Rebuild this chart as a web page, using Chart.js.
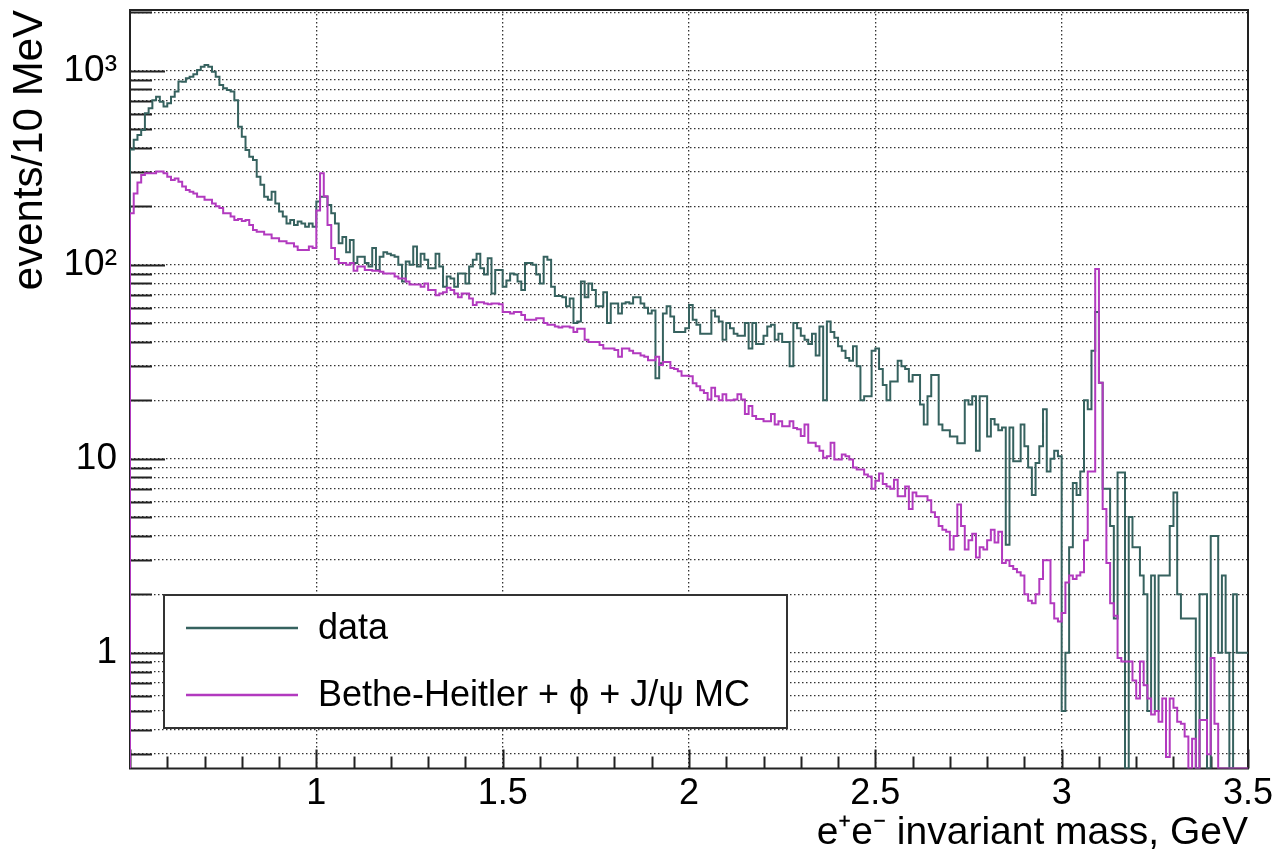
<!DOCTYPE html>
<html>
<head>
<meta charset="utf-8">
<title>e+e- invariant mass</title>
<script src="https://cdn.jsdelivr.net/npm/chart.js@4.4.0/dist/chart.umd.min.js"></script>
<style>
  html, body { margin: 0; padding: 0; background: #fff; }
  #wrap { width: 1280px; height: 859px; position: relative; }
</style>
</head>
<body>
<div id="wrap"><canvas id="massChart"></canvas></div>
<script>
// binning: 10 MeV bins from 0.5 to 3.5 GeV
const MASS_MIN = 0.5;
const MASS_MAX = 3.5;
const BIN_WIDTH = 0.01;

// events per bin (0 = empty bin)
const DATA_COUNTS = [
  393, 440, 466, 495, 603, 640, 705, 735, 692, 653,
  679, 735, 780, 880, 877, 914, 931, 958, 1008, 1049,
  1070, 1049, 988, 931, 845, 811, 795, 780, 705, 514,
  457, 390, 360, 346, 284, 258, 224, 216, 238, 207,
  188, 177, 163, 170, 160, 167, 163, 157, 163, 157,
  212, 224, 224, 203, 184, 163, 129, 139, 116, 134,
  102, 110, 110, 102, 98, 122, 94, 110, 116, 114,
  112, 110, 100, 82, 104, 100, 124, 98, 114, 106,
  96, 96, 114, 98, 77, 87, 85, 77, 90, 90,
  80, 98, 106, 114, 96, 89, 108, 71, 94, 94,
  77, 83, 90, 89, 82, 74, 102, 102, 100, 89,
  80, 110, 106, 77, 69, 69, 68, 61, 67, 50,
  51, 82, 68, 80, 74, 61, 61, 72, 50, 63,
  63, 56, 63, 64, 63, 68, 68, 63, 60, 56,
  58, 26, 31, 56, 61, 54, 45, 45, 45, 47,
  62, 52, 49, 44, 44, 44, 58, 54, 51, 41,
  50, 47, 44, 43, 43, 50, 37, 50, 39, 39,
  43, 48, 49, 41, 44, 40, 40, 30, 50, 47,
  43, 41, 39, 44, 34, 48, 20, 51, 45, 42,
  38, 36, 33, 32, 38, 30, 20, 21, 21, 36,
  37, 29, 24, 20, 25, 25, 32, 30, 29, 25,
  27, 27, 19, 15, 21, 27, 27, 15, 14, 14,
  13, 13, 12, 12, 20, 19, 21, 11, 21, 21,
  13, 16, 15, 14, 14.5, 3.6, 14.5, 9.7, 9.7, 15,
  11.6, 9, 6.5, 9.5, 11.6, 18, 8.6, 10, 11, 10.3,
  0.5, 1, 3.5, 7.5, 6.5, 8.6, 20, 18, 36, 57,
  24.6, 7, 7, 4.5, 1.5, 8.5, 8.5, 0, 5, 3.5,
  3.5, 2.5, 2, 0.5, 2.5, 0.5, 2.5, 2.5, 2.5, 4.5,
  6.7, 2, 1.5, 1.5, 1.5, 1.5, 0, 2, 2, 0,
  4, 4, 1, 2.5, 1, 0, 2, 1, 1, 1
];

const MC_COUNTS = [
  184, 233, 265, 290, 296, 296, 296, 302, 302, 296,
  284, 273, 278, 268, 253, 243, 238, 233, 224, 224,
  216, 216, 207, 200, 196, 184, 184, 177, 170, 172,
  168, 170, 160, 151, 148, 148, 143, 143, 137, 137,
  132, 132, 129, 129, 124, 119, 119, 119, 124, 122,
  190, 296, 225, 160, 122, 107, 102, 102, 100, 102,
  93, 98, 98, 94, 94, 93, 93, 92, 90, 90,
  90, 87, 85, 85, 82, 79, 79, 79, 77, 80,
  74, 74, 69.5, 71, 72, 76, 74, 71, 68, 71,
  71, 67, 62, 64, 64, 63, 62.5, 63, 63, 62.5,
  57, 57, 56, 57, 57, 55, 52, 52, 52, 53,
  53, 50, 49, 49, 48, 47.5, 48, 48, 47.5, 45,
  46.7, 46.7, 41, 40, 40, 40, 38.5, 37, 37, 37,
  36.3, 33.5, 37, 37, 36, 35, 35, 34, 33.5, 32.2,
  32.2, 33.5, 30.4, 31.5, 31.5, 29.3, 29, 28.2, 26.8, 26.8,
  26.6, 24.5, 23.6, 22.5, 21.8, 20.2, 23.2, 21, 20, 21.5,
  20, 20, 20.2, 21.5, 20.2, 17, 18.7, 16.6, 16, 16,
  15.6, 15.6, 17, 15, 15.6, 14.7, 14.7, 15.6, 14.4, 14.2,
  13.1, 15, 12.1, 12.1, 11.6, 11, 10.1, 10.3, 12.1, 9.9,
  9.9, 10.5, 10.3, 9.9, 9, 8.8, 8.8, 8.3, 8.1, 7,
  7.7, 8.4, 7.4, 7.2, 7, 7.8, 6.4, 6.4, 7.2, 5.5,
  6.7, 6.4, 6.4, 6.4, 6.1, 5.3, 5, 4.5, 4.3, 4.2,
  3.4, 4, 5.8, 4.5, 3.4, 3.8, 4.1, 3.1, 3.5, 3.4,
  3.8, 4.3, 3.7, 4.2, 2.9, 3, 2.8, 2.7, 2.6, 2.5,
  2, 1.85, 1.8, 2, 2.4, 3, 3, 1.8, 1.5, 1.45,
  1.6, 2.3, 2.5, 2.4, 2.5, 2.6, 3.8, 8.6, 8.6, 95,
  24.6, 5.5, 2.9, 1.8, 1.55, 0.94, 0.9, 0.9, 0.9, 0.72,
  0.58, 0.9, 0.68, 0.58, 0.48, 0.5, 0.44, 0.58, 0.29, 0.58,
  0.52, 0.44, 0.43, 0.37, 0, 0.36, 0, 0.45, 0.45, 0.3,
  0.94, 0.43, 0, 0, 0, 0, 0, 0, 0, 0
];

const SERIES_NAMES = ["data", "Bethe-Heitler + \u03D5 + J/\u03C8 MC"];
const SERIES_COLORS = ["#36625f", "#b23abf"];

// axes
const Y_MIN = 0.253;
const Y_MAX = 2055;
const Y_TICKS = [
  0.3, 0.4, 0.5, 0.6, 0.7, 0.8, 0.9,
  1, 2, 3, 4, 5, 6, 7, 8, 9,
  10, 20, 30, 40, 50, 60, 70, 80, 90,
  100, 200, 300, 400, 500, 600, 700, 800, 900,
  1000, 2000
];
const Y_LABELS = { 1: "1", 10: "10", 100: "10\u00B2", 1000: "10\u00B3" };
const X_MAJOR = [0.5, 1, 1.5, 2, 2.5, 3, 3.5];
const X_LABELS = ["", "1", "1.5", "2", "2.5", "3", "3.5"];
const X_MINOR_STEP = 0.1;

const FONT = "'Liberation Sans', Arial, Helvetica, sans-serif";
const GRID_COLOR = "rgba(0,0,0,0.8)";

function isMajorX(v) {
  return X_MAJOR.some((m) => Math.abs(m - v) < 1e-6);
}

// ROOT-like outline: rise from the floor at the low edge, one point per bin low edge
function histPoints(counts) {
  const pts = [{ x: MASS_MIN, y: Y_MIN }];
  counts.forEach((c, i) => {
    pts.push({ x: +(MASS_MIN + i * BIN_WIDTH).toFixed(2), y: c > 0 ? c : Y_MIN });
  });
  const last = counts[counts.length - 1];
  pts.push({ x: MASS_MAX, y: last > 0 ? last : Y_MIN });
  return pts;
}

// frame + inward tick marks
const rootFrame = {
  id: "rootFrame",
  beforeDatasetsDraw(chart) {
    const { ctx, chartArea: a, scales } = chart;
    ctx.save();
    ctx.strokeStyle = "#222";
    ctx.lineWidth = 2;
    ctx.strokeRect(a.left, a.top, a.right - a.left, a.bottom - a.top);

    ctx.beginPath();
    scales.x.ticks.forEach((t) => {
      const px = Math.round(scales.x.getPixelForValue(t.value)) + 0.5;
      const len = isMajorX(t.value) ? 19 : 12;
      ctx.moveTo(px, a.bottom);
      ctx.lineTo(px, a.bottom - len);
    });
    scales.y.ticks.forEach((t) => {
      const py = Math.round(scales.y.getPixelForValue(t.value)) + 0.5;
      const len = Y_LABELS[t.value] ? 35 : 22;
      ctx.moveTo(a.left, py);
      ctx.lineTo(a.left + len, py);
    });
    ctx.stroke();
    ctx.restore();
  },
};

// legend box in the lower left, like TLegend
const rootLegend = {
  id: "rootLegend",
  afterDatasetsDraw(chart) {
    const { ctx, chartArea: a } = chart;
    const left = a.left + 34, top = 595, right = 787, bottom = 728;
    ctx.save();
    ctx.fillStyle = "#fff";
    ctx.fillRect(left, top, right - left, bottom - top);
    ctx.strokeStyle = "#333";
    ctx.lineWidth = 2;
    ctx.strokeRect(left, top, right - left, bottom - top);

    const rows = [628, 695];
    ctx.font = "36px " + FONT;
    ctx.textBaseline = "middle";
    ctx.fillStyle = "#000";
    rows.forEach((ry, i) => {
      ctx.strokeStyle = SERIES_COLORS[i];
      ctx.lineWidth = 2.5;
      ctx.beginPath();
      ctx.moveTo(186, ry);
      ctx.lineTo(298, ry);
      ctx.stroke();
      ctx.fillText(SERIES_NAMES[i], 318, ry + 1);
    });
    ctx.restore();
  },
};

const canvas = document.getElementById("massChart");

new Chart(canvas, {
  type: "line",
  data: {
    datasets: [
      {
        label: SERIES_NAMES[0],
        data: histPoints(DATA_COUNTS),
        borderColor: SERIES_COLORS[0],
        borderWidth: 2,
        stepped: true,
        pointRadius: 0,
        fill: false,
        order: 2,
      },
      {
        label: SERIES_NAMES[1],
        data: histPoints(MC_COUNTS),
        borderColor: SERIES_COLORS[1],
        borderWidth: 2,
        stepped: true,
        pointRadius: 0,
        fill: false,
        order: 1,
      },
    ],
  },
  options: {
    responsive: true,
    maintainAspectRatio: false,
    animation: false,
    layout: { padding: { left: 0, right: 32, top: 10, bottom: 0 } },
    plugins: {
      legend: { display: false },
      tooltip: { enabled: false },
    },
    scales: {
      x: {
        type: "linear",
        min: MASS_MIN,
        max: MASS_MAX,
        bounds: "data",
        afterBuildTicks: (scale) => {
          const ticks = [];
          for (let k = 0; k <= Math.round((MASS_MAX - MASS_MIN) / X_MINOR_STEP); k++) {
            ticks.push({ value: +(MASS_MIN + k * X_MINOR_STEP).toFixed(2) });
          }
          scale.ticks = ticks;
        },
        afterFit: (scale) => {
          scale.height = 859 - 768.5;
          scale.paddingLeft = 0;
          scale.paddingRight = 0;
        },
        grid: {
          drawTicks: false,
          lineWidth: 1.3,
          color: (c) =>
            c.tick && isMajorX(c.tick.value) && c.tick.value > MASS_MIN && c.tick.value < MASS_MAX
              ? GRID_COLOR
              : "rgba(0,0,0,0)",
        },
        border: { display: false, dash: [1.5, 2.5] },
        ticks: {
          autoSkip: false,
          maxRotation: 0,
          padding: 4,
          color: "#000",
          font: { family: FONT, size: 36 },
          callback: (v) => {
            const idx = X_MAJOR.findIndex((m) => Math.abs(m - v) < 1e-6);
            return idx >= 0 ? X_LABELS[idx] : "";
          },
        },
        title: {
          display: true,
          text: "e\u207Ae\u207B invariant mass, GeV",
          align: "end",
          color: "#000",
          font: { family: FONT, size: 39 },
          padding: { top: 0, bottom: 2 },
        },
      },
      y: {
        type: "logarithmic",
        min: Y_MIN,
        max: Y_MAX,
        bounds: "data",
        afterBuildTicks: (scale) => {
          scale.ticks = Y_TICKS.map((v) => ({ value: v }));
        },
        afterFit: (scale) => {
          scale.width = 130;
          scale.paddingTop = 0;
          scale.paddingBottom = 0;
        },
        grid: {
          drawTicks: false,
          lineWidth: 1.3,
          color: GRID_COLOR,
        },
        border: { display: false, dash: [1.5, 2.5] },
        ticks: {
          autoSkip: false,
          padding: 13,
          color: "#000",
          font: { family: FONT, size: 37 },
          callback: (v) => Y_LABELS[v] || "",
        },
        title: {
          display: true,
          text: "events/10 MeV",
          align: "end",
          color: "#000",
          font: { family: FONT, size: 42 },
          padding: { top: 5, bottom: 0 },
        },
      },
    },
  },
  plugins: [rootFrame, rootLegend],
});
</script>
</body>
</html>
